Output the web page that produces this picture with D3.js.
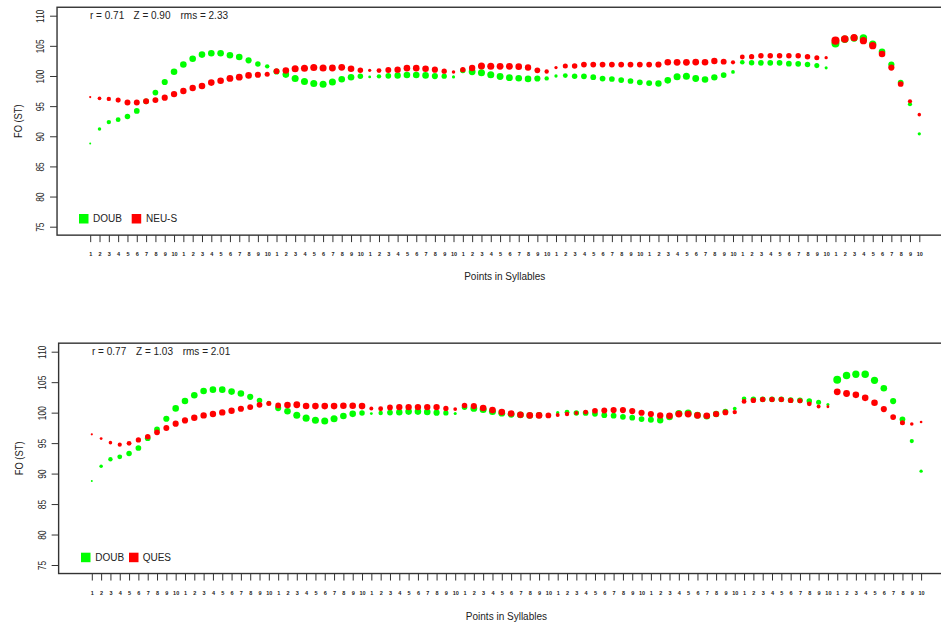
<!DOCTYPE html>
<html><head><meta charset="utf-8">
<script src="https://cdn.jsdelivr.net/npm/d3@7/dist/d3.min.js"></script>
<style>
body{margin:0;background:#fff}
svg{display:block}
text{font-family:"Liberation Sans",Arial,Helvetica,sans-serif;fill:#222}
</style>
</head><body>
<svg id="chart" width="941" height="623"></svg>
<script>
// ---------- DATA ----------
const pointsPerSyllable = ["1","2","3","4","5","6","7","8","9","10"];
const syllableCount = 9;
const yTicks = [75, 80, 85, 90, 95, 100, 105, 110];
const yLabel = "FO (ST)";
const xLabel = "Points in Syllables";

// DOUB (green), shared by both panels
const doub = [
  88.8, 91.2, 92.35, 92.75, 93.3, 94.2, 95.8, 97.25, 99.0, 100.7,
  101.9, 102.85, 103.55, 103.77, 103.77, 103.45, 103.15, 102.6, 102.0, 101.6,
  100.75, 100.23, 99.58, 99.1, 98.75, 98.64, 99.0, 99.45, 99.8, 99.96,
  99.85, 99.94, 100.02, 100.07, 100.17, 100.17, 100.1, 99.99, 99.96, 99.85,
  100.9, 100.7, 100.53, 100.2, 99.92, 99.72, 99.63, 99.52, 99.58, 99.6,
  100.0, 100.07, 99.96, 99.94, 99.8, 99.58, 99.5, 99.32, 99.17, 98.95,
  98.82, 98.75, 99.28, 99.86, 99.94, 99.58, 99.42, 99.77, 100.16, 100.68,
  102.28, 102.18, 102.18, 102.18, 102.18, 102.05, 102.02, 101.9, 101.72, 101.35,
  105.4, 106.1, 106.3, 106.3, 105.3, 104.0, 101.9, 98.9, 95.33, 90.4
];
const doubSize = [
  0.9, 1.6, 2.0, 2.2, 2.5, 2.6, 2.6, 2.6, 2.8, 3.0,
  3.0, 3.0, 3.0, 3.0, 3.0, 3.0, 3.0, 2.8, 2.5, 2.0,
  2.8, 3.0, 3.2, 3.2, 3.2, 3.2, 3.2, 3.0, 3.0, 2.5,
  1.3, 2.0, 2.6, 2.9, 3.0, 3.0, 3.0, 2.8, 2.4, 1.4,
  2.5, 3.1, 3.2, 3.2, 3.1, 3.1, 3.0, 3.0, 2.8, 2.0,
  1.5, 2.2, 2.5, 2.6, 2.6, 2.6, 2.6, 2.6, 2.6, 2.6,
  2.7, 2.9, 3.0, 3.2, 3.2, 3.1, 3.0, 2.9, 2.6, 1.7,
  2.1, 2.5, 2.6, 2.6, 2.6, 2.6, 2.6, 2.5, 2.3, 1.4,
  3.6, 3.4, 3.3, 3.4, 3.3, 3.0, 2.8, 2.6, 1.9, 1.5
];
// NEU-S (red, top panel)
const neuS = [
  96.5, 96.3, 96.2, 96.0, 95.6, 95.6, 95.8, 96.0, 96.4, 97.0,
  97.5, 98.0, 98.35, 98.9, 99.2, 99.6, 99.8, 100.1, 100.2, 100.3,
  100.8, 100.9, 101.2, 101.3, 101.4, 101.33, 101.33, 101.44, 101.2, 100.94,
  100.94, 100.9, 101.0, 101.05, 101.3, 101.3, 101.2, 101.05, 100.8, 100.66,
  101.05, 101.33, 101.66, 101.6, 101.6, 101.6, 101.55, 101.4, 100.94, 100.75,
  101.4, 101.66, 101.66, 101.9, 101.9, 101.9, 101.9, 101.9, 101.9, 101.9,
  101.9, 101.9, 102.27, 102.27, 102.27, 102.3, 102.27, 102.49, 102.38, 102.27,
  103.15, 103.2, 103.37, 103.37, 103.37, 103.37, 103.37, 103.2, 103.04, 103.04,
  105.86, 106.14, 106.36, 105.86, 105.03, 103.65, 101.4, 98.67, 95.8, 93.59
];
const neuSSize = [
  1.0, 1.7, 2.0, 2.3, 2.7, 2.7, 2.7, 2.7, 2.8, 2.9,
  2.9, 2.9, 3.0, 3.0, 3.0, 3.1, 3.1, 3.0, 2.8, 2.3,
  2.6, 3.0, 3.2, 3.2, 3.2, 3.2, 3.1, 3.1, 3.0, 2.5,
  1.5, 2.2, 2.7, 2.9, 3.0, 3.0, 3.0, 2.8, 2.4, 1.6,
  2.4, 2.9, 3.2, 3.2, 3.1, 3.1, 3.0, 2.9, 2.6, 2.0,
  1.5, 2.3, 2.5, 2.6, 2.6, 2.6, 2.6, 2.6, 2.6, 2.6,
  2.6, 2.8, 3.0, 3.1, 3.1, 3.1, 3.0, 2.9, 2.7, 1.9,
  2.2, 2.4, 2.5, 2.5, 2.5, 2.5, 2.5, 2.5, 2.3, 1.5,
  3.7, 3.4, 3.2, 3.3, 3.3, 3.0, 2.8, 2.6, 1.9, 1.6
];
// QUES (red, bottom panel)
const ques = [
  96.44, 95.74, 95.08, 94.75, 94.97, 95.52, 96.06, 96.77, 97.48, 98.19,
  98.73, 99.17, 99.55, 99.77, 100.04, 100.31, 100.64, 100.91, 101.29, 101.51,
  101.18, 101.24, 101.29, 101.1, 101.07, 101.07, 101.07, 101.13, 101.13, 101.07,
  100.69, 100.64, 100.85, 100.91, 100.91, 100.91, 100.91, 100.91, 100.69, 100.58,
  101.18, 101.07, 100.75, 100.42, 100.09, 99.87, 99.66, 99.55, 99.55, 99.55,
  99.6, 99.77, 99.93, 100.09, 100.31, 100.36, 100.42, 100.42, 100.26, 99.98,
  99.77, 99.55, 99.49, 99.77, 99.77, 99.55, 99.49, 99.77, 100.04, 100.09,
  101.84, 102.0, 102.16, 102.16, 102.16, 102.0, 101.95, 101.45, 101.02, 100.96,
  103.41, 103.14, 102.92, 102.43, 101.62, 100.58, 99.28, 98.35, 98.13, 98.46
];
const quesSize = [
  1.0, 1.3, 1.6, 1.9, 2.2, 2.4, 2.5, 2.6, 2.7, 2.8,
  2.8, 2.9, 2.9, 2.9, 2.9, 2.9, 2.8, 2.7, 2.6, 2.3,
  2.6, 3.0, 3.1, 3.0, 3.0, 3.0, 3.0, 3.0, 3.0, 3.0,
  1.8, 2.2, 2.6, 2.9, 2.9, 2.9, 2.9, 2.9, 2.4, 1.7,
  2.5, 2.8, 3.0, 3.0, 3.0, 3.0, 3.0, 3.0, 3.0, 2.6,
  1.8, 2.0, 1.8, 2.2, 2.6, 2.7, 2.8, 2.8, 2.8, 2.8,
  2.8, 2.9, 3.0, 3.1, 3.1, 3.0, 3.0, 2.8, 2.6, 2.0,
  2.2, 2.4, 2.4, 2.4, 2.4, 2.4, 2.3, 2.2, 1.8, 1.3,
  3.1, 3.1, 3.0, 3.0, 3.0, 2.8, 2.6, 2.3, 1.6, 1.2
];
const panelNames = ["NEU-S", "QUES"];
const baseName = "DOUB";
const statR = ["0.71", "0.77"];
const statZ = ["0.90", "1.03"];
const statRms = ["2.33", "2.01"];
const colors = {base: "#00ff00", cmp: "#ff0000"};

// ---------- DRAW ----------
const tickLabels = d3.range(syllableCount).flatMap(() => pointsPerSyllable);
const idx = d3.range(1, tickLabels.length + 1);
const svg = d3.select("#chart");

const panels = [
  {cmp: neuS, cmpSize: neuSSize, name: panelNames[0], r: statR[0], z: statZ[0], rms: statRms[0],
   xr: [90.2, 919.3], yr: [226.7, 15.7], statY: 18.6, statX: [90, 133.5, 180.5],
   legY: 214, legX: [79, 93, 131.7, 146], titleY: 280.3, ylabX: 18, tickLabX: 40},
  {cmp: ques, cmpSize: quesSize, name: panelNames[1], r: statR[1], z: statZ[1], rms: statRms[1],
   xr: [91.8, 921.1], yr: [565, 351.7], statY: 355.3, statX: [92, 136, 182.7],
   legY: 552.7, legX: [81, 95.3, 129, 142.7], titleY: 619.5, ylabX: 18.7, tickLabX: 42.5}
];

const rScale = d3.scaleLinear().domain([0, 4]).range([0, 4.4]);

panels.forEach(p => {
  const x = d3.scaleLinear().domain([1, idx.length]).range(p.xr);
  const y = d3.scaleLinear().domain([75, 110]).range(p.yr);
  const ext = (idx.length - 1) * 0.04, yext = 35 * 0.04;
  const bx0 = x(1 - ext), bx1 = x(idx.length + ext);
  const by0 = y(110 + yext), by1 = y(75 - yext);
  const g = svg.append("g");

  // box
  g.append("rect").attr("x", bx0).attr("y", by0).attr("width", bx1 - bx0).attr("height", by1 - by0)
    .attr("fill", "none").attr("stroke", "#333").attr("stroke-width", 1.4);

  // y axis
  const ya = g.append("g").attr("transform", `translate(${bx0},0)`)
    .call(d3.axisLeft(y).tickValues(yTicks).tickSize(7).tickFormat(d3.format("d")));
  ya.select(".domain").remove();
  ya.selectAll(".tick line").attr("stroke", "#333");
  ya.selectAll(".tick text")
    .attr("x", null).attr("dy", "0.35em")
    .attr("text-anchor", "middle")
    .attr("transform", `translate(${p.tickLabX - bx0},0) rotate(-90) scale(0.8,1)`)
    .style("font-size", "10.5px").style("font-family", '"Liberation Sans",Arial,sans-serif').attr("fill", "#222");

  // x axis
  const xa = g.append("g").attr("transform", `translate(0,${by1})`)
    .call(d3.axisBottom(x).tickValues(idx).tickSize(7).tickFormat((d, i) => tickLabels[i]));
  xa.select(".domain").remove();
  xa.selectAll(".tick line").attr("stroke", "#333");
  xa.selectAll(".tick text").attr("y", 19.3).attr("dy", "0.35em")
    .style("font-size", "5.5px").style("font-weight", "bold")
    .style("font-family", '"Liberation Sans",Arial,sans-serif').attr("fill", "#333");

  // axis titles
  g.append("text").attr("transform", `translate(${p.ylabX},${(by0 + by1) / 2}) rotate(-90) scale(0.85,1)`)
    .attr("text-anchor", "middle").attr("dy", "0.35em").style("font-size", "11px").text(yLabel);
  g.append("text").attr("x", (bx0 + bx1) / 2).attr("y", p.titleY).attr("text-anchor", "middle")
    .style("font-size", "10px").text(xLabel);

  // stats
  [`r = ${p.r}`, `Z = ${p.z}`, `rms = ${p.rms}`].forEach((t, i) => {
    g.append("text").attr("x", p.statX[i]).attr("y", p.statY).style("font-size", "10px").text(t);
  });

  // points: base (green) then comparison (red)
  g.append("g").selectAll("circle").data(doub).join("circle")
    .attr("cx", (d, i) => x(idx[i])).attr("cy", d => y(d))
    .attr("r", (d, i) => rScale(doubSize[i])).attr("fill", colors.base);
  g.append("g").selectAll("circle").data(p.cmp).join("circle")
    .attr("cx", (d, i) => x(idx[i])).attr("cy", d => y(d))
    .attr("r", (d, i) => rScale(p.cmpSize[i])).attr("fill", colors.cmp);

  // legend
  const s = 9.5;
  g.append("rect").attr("x", p.legX[0]).attr("y", p.legY).attr("width", s).attr("height", s).attr("fill", colors.base);
  g.append("text").attr("x", p.legX[1]).attr("y", p.legY + s / 2).attr("dy", "0.36em").style("font-size", "10px").text(baseName);
  g.append("rect").attr("x", p.legX[2]).attr("y", p.legY).attr("width", s).attr("height", s).attr("fill", colors.cmp);
  g.append("text").attr("x", p.legX[3]).attr("y", p.legY + s / 2).attr("dy", "0.36em").style("font-size", "10px").text(p.name);
});
</script>
</body></html>
